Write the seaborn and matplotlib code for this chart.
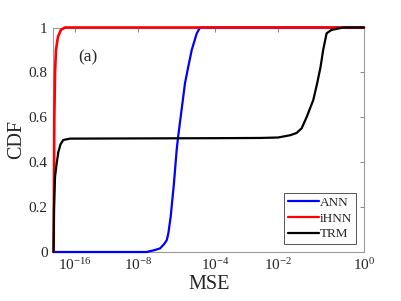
import numpy as np
import pandas as pd
import seaborn as sns
import matplotlib.pyplot as plt
from matplotlib.ticker import FixedLocator, FixedFormatter

# CDF curves; x given as log10(MSE)
ann_exp = [-18.77, -7.55, -7.12, -6.86, -6.65, -6.51, -6.43, -6.31, -6.14, -6.0, -5.93,
           -5.79, -5.57, -5.40, -5.22, -4.96, -4.79, 0.0]
ann_cdf = [0.0, 0.0, 0.009, 0.016, 0.035, 0.053, 0.083, 0.157, 0.306, 0.454, 0.509,
           0.603, 0.751, 0.825, 0.90, 0.974, 1.0, 1.0]

ihnn_exp = [-18.76, -18.71, -18.67, -18.58, -18.46, -18.2, -17.82, -17.31, 0.0]
ihnn_cdf = [0.0, 0.3, 0.6, 0.8, 0.9, 0.96, 0.99, 1.0, 1.0]

trm_exp = [-18.77, -18.71, -18.58, -18.37, -18.16, -17.88, -17.53, -16.67, -8.0, -4.01,
           -2.57, -2.0, -1.72, -1.57, -1.45, -1.33, -1.18, -1.09, -1.01, -0.95, -0.87,
           -0.76, -0.49, 0.0]
trm_cdf = [0.0, 0.2, 0.335, 0.395, 0.445, 0.48, 0.499, 0.505, 0.506, 0.507,
           0.508, 0.51, 0.52, 0.53, 0.551, 0.603, 0.677, 0.751, 0.825, 0.90, 0.974,
           0.989, 1.0, 1.0]

methods = ["ANN", "iHNN", "TRM"]
colors = {"ANN": "#0000ff", "iHNN": "#ff0000", "TRM": "#000000"}

x_tick_exp = [-16, -8, -4, -2, 0]
y_ticks = [0, 0.2, 0.4, 0.6, 0.8, 1]
y_tick_labels = ["0", "0.2", "0.4", "0.6", "0.8", "1"]

# the paper's x axis is not a plain log axis; map decades piecewise
knot_exp = np.array([-18.8, -16, -8, -4, -2, 0])
knot_pos = np.array([0.0, 22.0, 84.7, 162.0, 224.7, 310.7])


def fwd(x):
    x = np.clip(np.asarray(x, dtype=float), 1e-30, None)
    return np.interp(np.log10(x), knot_exp, knot_pos)


def inv(u):
    return 10.0 ** np.interp(u, knot_pos, knot_exp)


frames = []
for name, ex, cd in zip(methods, [ann_exp, ihnn_exp, trm_exp], [ann_cdf, ihnn_cdf, trm_cdf]):
    frames.append(pd.DataFrame({"mse": 10.0 ** np.array(ex), "cdf": cd, "method": name}))
df = pd.concat(frames, ignore_index=True)

sns.set_style("white")
plt.rcParams["font.family"] = ["Liberation Serif", "DejaVu Serif"]
plt.rcParams["mathtext.fontset"] = "stix"

fig = plt.figure(figsize=(4.02, 3.01), dpi=100)
ax = fig.add_axes([0.1326, 0.1628, 0.7729, 0.7458])

sns.lineplot(data=df, x="mse", y="cdf", hue="method", hue_order=methods, palette=colors,
             sort=False, estimator=None, linewidth=1.6, ax=ax)
for ln in ax.lines:
    ln.set_clip_on(False)
    ln.set_zorder(3)
ax.lines[1].set_linewidth(1.9)  # red curve sits on top of the blue one at CDF = 1

ax.set_xscale("function", functions=(fwd, inv))
ax.set_xlim(10 ** -18.8, 1.0)
ax.set_ylim(0, 1)

ax.xaxis.set_major_locator(FixedLocator([10.0 ** e for e in x_tick_exp]))
ax.xaxis.set_major_formatter(FixedFormatter([r"$\mathregular{10^{%d}}$" % e for e in x_tick_exp]))
ax.xaxis.set_minor_locator(FixedLocator([]))
ax.yaxis.set_major_locator(FixedLocator(y_ticks))
ax.yaxis.set_major_formatter(FixedFormatter(y_tick_labels))

spine_col = "#9a9a9a"
for s in ax.spines.values():
    s.set_visible(True)
    s.set_color(spine_col)
    s.set_linewidth(0.8)
ax.tick_params(direction="in", length=3, width=0.6, color="#707070", top=True, right=True,
               labelsize=11, labelcolor="#262626", pad=4)

ax.set_xlabel("MSE", fontsize=14.5, color="#262626", labelpad=1)
ax.set_ylabel("CDF", fontsize=14.5, color="#262626", labelpad=2)

ax.text(0.08, 0.85, "(a)", transform=ax.transAxes, fontsize=12.5, color="#262626")

leg = ax.legend(loc="lower right", fontsize=9.5, frameon=True, fancybox=False,
                edgecolor="#555555", framealpha=1, handlelength=2.3, handletextpad=0.1,
                labelspacing=0.25, borderpad=0.3, borderaxespad=0.6)
leg.get_frame().set_linewidth(0.7)
leg.set_zorder(6)

fig.savefig("out.png", dpi=100)
